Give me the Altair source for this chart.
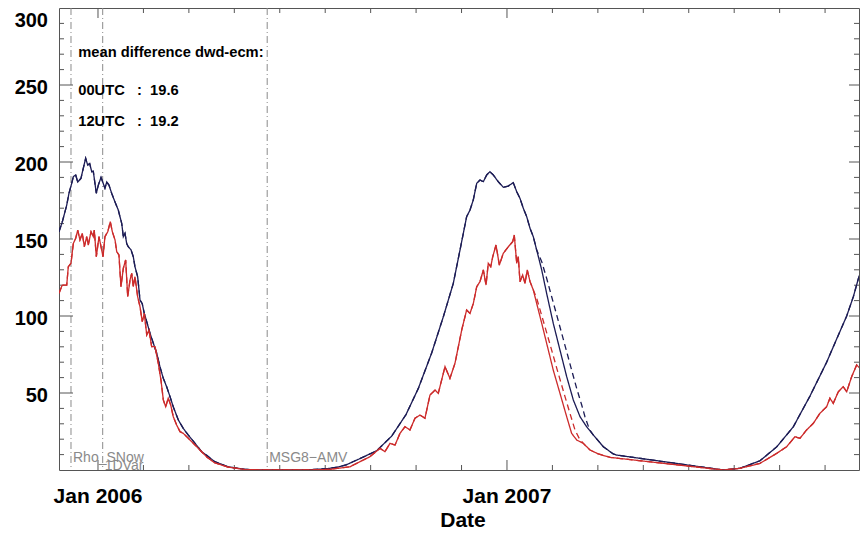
import altair as alt
import pandas as pd

BASE = pd.Timestamp("2006-01-01")

# ---- series: days since 2006-01-01, values ----
dwd00_days = [-34.8, -31.9, -27.9, -25.9, -23.5, -22.0, -19.9, -18.1, -15.2, -13.1, -11.0, -9.2, -7.4,
              -5.6, -4.2, -1.5, 0.3, 2.7, 4.7, 6.2, 7.8, 9.8, 12.2, 15.2, 18.1, 21.2, 22.6, 24.1, 25.6,
              27.0, 29.5, 31.5, 33.0, 35.4, 37.5, 39.5, 41.3, 43.5, 46.4, 49.4, 52.4, 55.3, 58.3, 61.3,
              64.3, 67.2, 71.7, 76.1, 80.6, 86.6, 92.5, 97.0, 104, 116, 131, 150, 170, 190, 205, 215,
              222, 228, 237, 248.7, 262.1, 274.9, 285.9, 297.8, 308.2, 317.1, 323.1, 329, 332, 334.9,
              338, 340.9, 343.9, 346.9, 349.8, 352.8, 357.2, 361.7, 366.2, 370.6, 373.7, 376.6, 379.6,
              382.6, 385.6, 388.5, 391.5, 396, 400.4, 406.3, 412.3, 418.3, 424.2, 430.2, 436.1, 442.1,
              451, 459.9, 462.9, 558, 573, 590.8, 605.7, 620.5, 635.4, 650.3, 659.2, 668.2, 674.1,
              678.5, 683, 686.5]
dwd00_vals = [154.7, 161, 172, 179.7, 186, 190.5, 191.6, 187, 189.4, 196, 202.4, 198, 199,
              193.7, 194, 179.7, 185, 190, 186, 183, 187, 185, 179.7, 174, 168.8, 160, 151.5, 153.7, 147,
              145, 142.9, 138.5, 132, 125.5, 110.4, 108, 101.7, 96.3, 88.8, 82.3, 75.8, 67, 59.5, 54,
              47.6, 41, 32.5, 27, 22.7, 17.3, 11.9, 9.5, 5.5, 2.1, 0.4, 0, 0, 0.2, 0.9, 2.0,
              3.5, 5.5, 8.5, 12.5, 22.0, 36.0, 53.0, 76.0, 99.5, 121.2, 142.9, 164.5, 168.8, 175.3,
              186.2, 188.3, 187.2, 191.6, 193.7, 191.6, 187.2, 183.6, 184.4, 186.6, 180.7, 176.4, 169.9,
              164.5, 156.9, 151.5, 142.9, 129.9, 114.7, 95.3, 77.9, 60.6, 45.5, 34.6, 28.1, 22.7,
              15.1, 10.4, 9.7, 0, 1.1, 6.0, 15.0, 28.0, 48.0, 70.0, 85.0, 100.0, 112.5,
              124.0, 133.0, 137.5]

# 12UTC dwd: same as 00UTC except the spring 2007 melt, which lags a few days
dwd12_melt_days = [391.5, 396, 400.4, 404.9, 409.4, 413.8, 418.3, 422.7, 427.2, 431.7, 434.6, 438.5]
dwd12_melt_vals = [142.9, 135.3, 124.5, 112.5, 100.6, 88.8, 76.8, 64.9, 53.0, 42.2, 34.6, 26.5]

ecm00_days = [-34.8, -31.9, -27.9, -26.5, -24.1, -22, -19.9, -18.1, -16.1, -14, -12.2, -10.1, -8.7,
              -6.2, -4.2, -3.3, -1.5, 0.9, 2.7, 4.5, 6.2, 8.7, 11, 12.8, 15.2, 16.7, 18.7, 20.5, 22.6,
              24.7, 26.5, 28.6, 30.1, 31.5, 33, 35.4, 37.5, 39.5, 41.3, 43.5, 45.5, 47.9, 50.9, 53.8,
              56.2, 58.3, 60.4, 62.7, 64.9, 67.2, 70.2, 73.2, 76.1, 80.6, 86.6, 92.5, 97, 104, 116,
              131, 150, 170, 190, 207, 224.9, 233.8, 242.7, 251.7, 256.1, 260.6, 265.1, 269.5, 274,
              278.4, 282.9, 287.4, 291.8, 296.3, 300.8, 303.7, 309.7, 314.1, 318.6, 324.6, 329, 332,
              335, 338, 340.9, 343.9, 346.3, 348.3, 350.5, 352.3, 355.2, 358.2, 361.7, 366.2, 370.1,
              371.5, 373.7, 375.1, 376.6, 379, 381.1, 383.1, 385.6, 388.5, 391.5, 396, 400.4, 406.3,
              412.3, 418.3, 422.7, 427.2, 433.1, 439.1, 446.6, 457, 558, 573, 590.8, 605.7, 614.6,
              622, 626.5, 632.4, 638.4, 644.3, 650.3, 653.2, 656.2, 660.7, 665.1, 668.2, 672.6,
              677.1, 680, 683, 686.5]
ecm00_vals = [114.7, 120.1, 120.1, 132, 134.2, 147.2, 150.4, 155.8, 149.4, 153.7, 145, 151.5, 146.1,
              154.7, 151.5, 155.8, 138.5, 151.5, 145, 138.5, 151.5, 154.7, 161.2, 154.7, 149.4, 141.8,
              139.6, 119, 131, 136.4, 112.5, 123.4, 127.7, 119, 125.5, 112.5, 106, 96.3, 101.7, 87.7,
              90.9, 80.1, 80.1, 69.3, 58.4, 45.5, 41.1, 46.6, 42.2, 34.6, 29.2, 24.9, 23.8, 20.6, 16.2,
              11.9, 8.5, 4.7, 1.9, 0.3, 0, 0, 0.1, 0.4, 2.1, 5.4, 8.6, 14.1, 11.9, 17.3, 16.2, 23.8,
              28.1, 26, 33.6, 35.7, 33.6, 48.7, 51.9, 49.8, 67.1, 59.5, 69.3, 90.9, 103.9, 101.7,
              108.2, 119, 122.3, 129.9, 120.1, 134.2, 132, 138.5, 146.1, 133.1, 140.7, 145, 148.3,
              152.6, 134.2, 138.5, 122.3, 126.6, 121.2, 129.9, 122.3, 116.9, 108.2, 95.3, 82.3, 64.9,
              49.8, 34.6, 23.8, 19.5, 17.3, 13, 10.4, 8.2, 0, 1.1, 4.3, 10.8, 15.1,
              21.6, 20.6, 26, 30.3, 36.8, 41.1, 46.6, 43.3, 50.8, 54.1, 50.8, 60.6,
              68.2, 66, 71.4, 80.1]

ecm12_melt_days = [391.5, 398, 404, 409.9, 415.9, 421.2, 425.7, 429.5]
ecm12_melt_vals = [111.5, 95.3, 80.1, 64.9, 49.8, 36.8, 26.0, 20.5]

series_names = ["dwd 00UTC", "dwd 12UTC", "ecm 00UTC", "ecm 12UTC"]
series_colors = ["#1c1c55", "#1c1c55", "#cc2b2b", "#cc2b2b"]
series_dash = [[1, 0], [6, 4], [1, 0], [6, 4]]

event_names = ["Rho_SNow", "1DVar", "MSG8\u2212AMV"]
event_days = [-24.1, 4.2, 151.0]
event_label_vals = [5.4, 0.3, 5.4]

NB = "\u00a0"
note_lines = ["mean difference dwd-ecm:",
              "00UTC" + NB * 3 + ":" + NB * 2 + "19.6",
              "12UTC" + NB * 3 + ":" + NB * 2 + "19.2"]
note_vals = [270.6, 246.3, 225.8]
note_day = -17.6

x_title = "Date"
y_labels = [50, 100, 150, 200, 250, 300]
y_major_ticks = [50, 100, 150, 200, 250]
y_minor_ticks = [v for v in range(10, 300, 10) if v % 50]
x_major_ticks = ["2006-01-01", "2007-01-01"]

# geometry of the plot area
PLOT_W = 800
PLOT_H = 462
DAY0 = -34.8
DAY1 = DAY0 + PLOT_W / 1.1205  # same px/day as the reference, right edge cropped
REF_DAY1 = 686.3               # right edge of the reference's (cropped) plot

FONT = "Liberation Sans"


def to_dates(days):
    return BASE + pd.to_timedelta(days, unit="D")


def splice(days, vals, mdays, mvals):
    lo, hi = mdays[0], mdays[-1]
    d = [x for x in days if x < lo] + list(mdays) + [x for x in days if x > hi]
    v = ([v for x, v in zip(days, vals) if x < lo] + list(mvals)
         + [v for x, v in zip(days, vals) if x > hi])
    return d, v


d12, v12 = splice(dwd00_days, dwd00_vals, dwd12_melt_days, dwd12_melt_vals)
e12, w12 = splice(ecm00_days, ecm00_vals, ecm12_melt_days, ecm12_melt_vals)

frames = []
for name, (dd, vv) in zip(series_names, [(dwd00_days, dwd00_vals), (d12, v12),
                                         (ecm00_days, ecm00_vals), (e12, w12)]):
    frames.append(pd.DataFrame({"date": to_dates(dd), "value": vv, "series": name}))
df = pd.concat(frames, ignore_index=True)

events = pd.DataFrame({"date": to_dates(event_days), "name": event_names, "value": event_label_vals})
notes = pd.DataFrame({"date": to_dates([note_day] * 3), "text": note_lines, "value": note_vals})

start_ts = BASE + pd.Timedelta(days=DAY0)
end_ts = BASE + pd.Timedelta(days=DAY1)
x_major = list(pd.to_datetime(x_major_ticks))
x_minor = []
for d0 in x_major:
    for k in range(1, 9):
        t = d0 + pd.Timedelta(days=k * 365 / 9)
        if t <= end_ts:
            x_minor.append(t)
xt_major = pd.DataFrame({"date": x_major})
xt_minor = pd.DataFrame({"date": x_minor})
yt_major = pd.DataFrame({"value": y_major_ticks})
yt_minor = pd.DataFrame({"value": y_minor_ticks})

xlab = pd.DataFrame({"date": x_major, "value": 0.0, "text": [d.strftime("%b %Y") for d in x_major]})
ylab_low = pd.DataFrame({"date": [start_ts] * 5, "value": y_labels[:-1],
                         "text": [str(v) for v in y_labels[:-1]]})
ylab_top = pd.DataFrame({"date": [start_ts], "value": [y_labels[-1]], "text": [str(y_labels[-1])]})
xtitle = pd.DataFrame({"date": [BASE + pd.Timedelta(days=(DAY0 + REF_DAY1) / 2)], "value": [0.0],
                       "text": [x_title]})


def dt(ts):
    return alt.DateTime(year=ts.year, month=ts.month, date=ts.day, hours=ts.hour, minutes=ts.minute)


x_scale = alt.Scale(domain=[dt(start_ts), dt(end_ts)])
y_scale = alt.Scale(domain=[0, 300], nice=False, zero=False)

XT = alt.X("date:T", scale=x_scale, axis=None)
YV = alt.Y("value:Q", scale=y_scale, axis=None)

lines = alt.Chart(df).mark_line(strokeWidth=1.3, clip=True).encode(
    x=XT, y=YV,
    color=alt.Color("series:N", scale=alt.Scale(domain=series_names, range=series_colors), legend=None),
    strokeDash=alt.StrokeDash("series:N", scale=alt.Scale(domain=series_names, range=series_dash),
                              legend=None),
)

rules = alt.Chart(events).mark_rule(color="#8a8a8a", strokeWidth=1, strokeDash=[7, 3, 1, 3]).encode(
    x=XT
)

event_text = alt.Chart(events).mark_text(align="left", baseline="alphabetic", dx=2, font=FONT,
                                         fontSize=14, color="#8a8a8a").encode(
    x=XT, y=YV, text="name:N",
)

note_text = alt.Chart(notes).mark_text(align="left", baseline="middle", font=FONT, fontSize=14.7,
                                       fontWeight="bold", color="black").encode(
    x=XT, y=YV, text="text:N",
)

TICK = dict(color="#555", strokeWidth=1)


def x_ticks(data, size, top):
    y1 = 0 if top else PLOT_H - size
    return alt.Chart(data).mark_rule(**TICK).encode(
        x=XT, y=alt.value(y1), y2=alt.value(y1 + size))


def y_ticks(data, size, right):
    x1 = PLOT_W - size if right else 0
    return alt.Chart(data).mark_rule(**TICK).encode(
        y=YV, x=alt.value(x1), x2=alt.value(x1 + size))


tick_layers = [
    x_ticks(xt_major, 10, False), x_ticks(xt_minor, 5, False),
    x_ticks(xt_major, 10, True), x_ticks(xt_minor, 5, True),
    y_ticks(yt_major, 14, False), y_ticks(yt_minor, 5, False),
    y_ticks(yt_major, 10, True), y_ticks(yt_minor, 5, True),
]

LBL = dict(font=FONT, fontWeight="bold", color="black")
xlab_layer = alt.Chart(xlab).mark_text(align="center", baseline="alphabetic", dy=33, fontSize=21,
                                       **LBL).encode(x=XT, y=YV, text="text:N")
ylab_layer = alt.Chart(ylab_low).mark_text(align="right", baseline="middle", dx=-11, dy=3,
                                           fontSize=20, **LBL).encode(x=XT, y=YV, text="text:N")
ylab_top_layer = alt.Chart(ylab_top).mark_text(align="right", baseline="top", dx=-11, dy=3,
                                               fontSize=20, **LBL).encode(x=XT, y=YV, text="text:N")
xtitle_layer = alt.Chart(xtitle).mark_text(align="center", baseline="alphabetic", dy=57, fontSize=21,
                                           **LBL).encode(x=XT, y=YV, text="text:N")

chart = alt.layer(rules, *tick_layers, lines, event_text, note_text,
                  xlab_layer, ylab_layer, ylab_top_layer, xtitle_layer).properties(
    width=PLOT_W, height=PLOT_H,
    autosize=alt.AutoSizeParams(type="none"),
    padding={"left": 51, "top": 0, "right": 1, "bottom": 62},
).configure_view(stroke="#555", strokeWidth=1)

chart.save("out.html", embed_options={"renderer": "svg", "actions": False})
